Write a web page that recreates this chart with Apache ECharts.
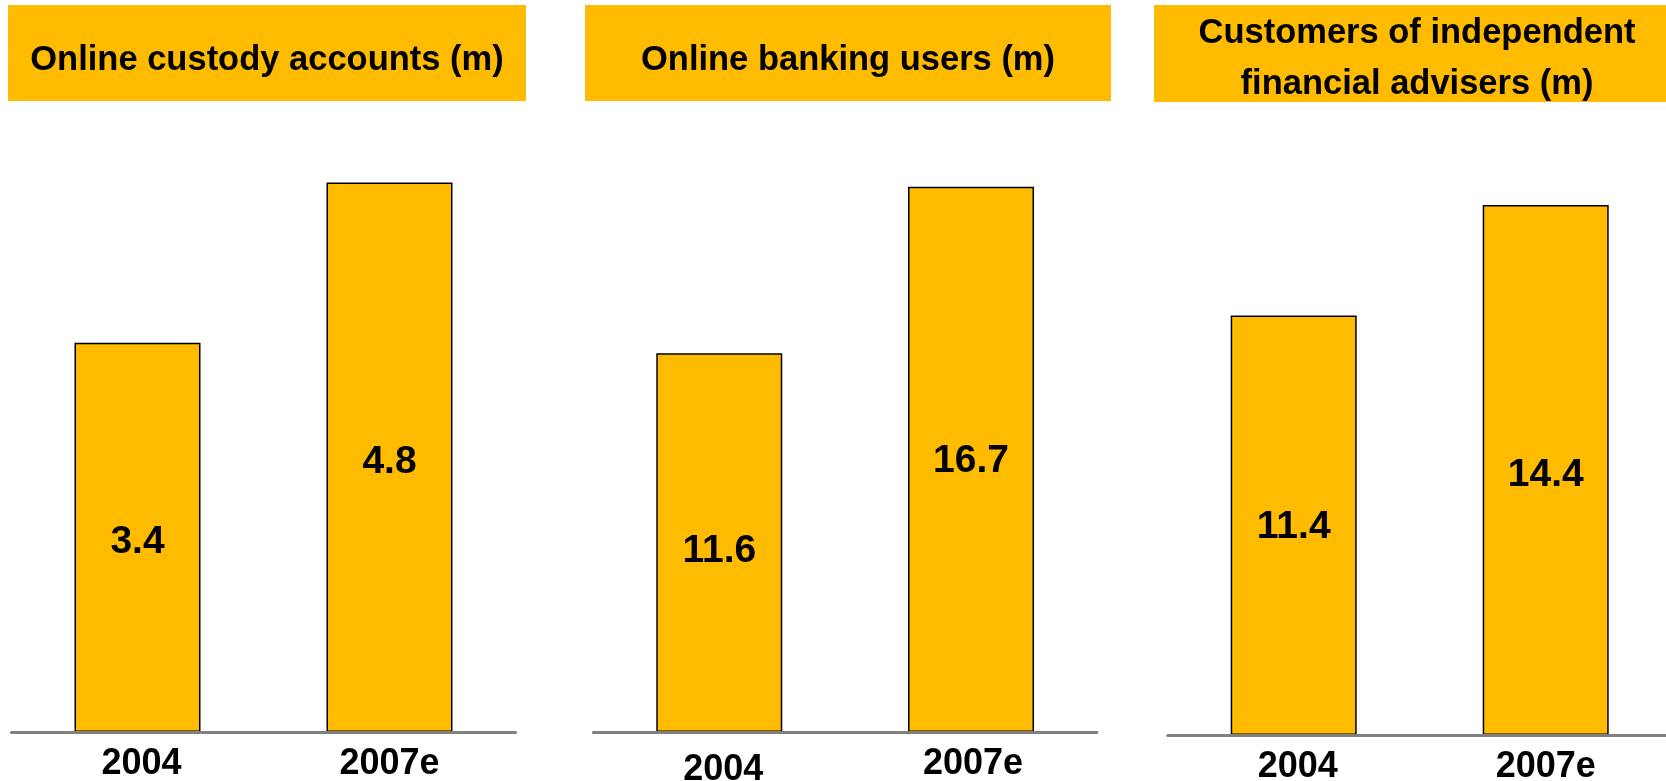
<!DOCTYPE html>
<html>
<head>
<meta charset="utf-8">
<script src="https://cdn.jsdelivr.net/npm/echarts@6/dist/echarts.min.js"></script>
<style>
  html, body { margin: 0; padding: 0; background: #fff; }
  #chart { width: 1666px; height: 781px; }
</style>
</head>
<body>
<div id="chart"></div>
<script>
// Categories shared by all three panels
const years = ['2004', '2007e'];

// Panel titles
const titles = [
  'Online custody accounts (m)',
  'Online banking users (m)',
  'Customers of independent\nfinancial advisers (m)'
];

// Values in millions
const custodyAccounts = [3.4, 4.8];
const bankingUsers = [11.6, 16.7];
const advisersCustomers = [11.4, 14.4];

const panelValues = [custodyAccounts, bankingUsers, advisersCustomers];

// Value-axis ceilings per panel
const axisMax = [5, 18, 15];

const FONT = "'Liberation Sans', Arial, sans-serif";
const GOLD = '#FFBB00';

// Layout of each panel: plotting grid, title box, title anchor,
// vertical nudge of the value labels and padding of the year labels
const panels = [
  { grid: { left: 11.5, width: 504, top: 159.5, height: 572.5 }, box: { x: 8, y: 5, w: 518, h: 96 }, tx: 267, ty: 60,
    labelNudge: [5, 5], yearPad: [[0, 0, 0, 8], [0, 0, 0, 0]] },
  { grid: { left: 593.4, width: 503.5, top: 144.3, height: 587.7 }, box: { x: 585, y: 5, w: 526, h: 96 }, tx: 848, ty: 60,
    labelNudge: [9, 2], yearPad: [[6, 0, 0, 8], [0, 0, 0, 4]] },
  { grid: { left: 1167.7, width: 504, top: 183, height: 552 }, box: { x: 1154, y: 5, w: 512, h: 97 }, tx: 1417, ty: 59,
    labelNudge: [2, 5], yearPad: [[0, 0, 0, 8], [0, 0, 0, 0]] }
];

const chart = echarts.init(document.getElementById('chart'), null, { renderer: 'canvas' });

const option = {
  backgroundColor: '#ffffff',
  animation: false,
  grid: panels.map(p => Object.assign({ containLabel: false, outerBoundsMode: 'none' }, p.grid)),
  xAxis: panels.map((p, i) => ({
    type: 'category',
    gridIndex: i,
    data: years.map((y, j) => ({ value: y, textStyle: { padding: p.yearPad[j] } })),
    z: 10,
    axisLine: { show: true, lineStyle: { color: '#808080', width: 3, cap: 'round' } },
    axisTick: { show: false },
    axisLabel: {
      margin: 14,
      color: '#000',
      fontFamily: FONT,
      fontWeight: 'bold',
      fontSize: 36
    },
    splitLine: { show: false }
  })),
  yAxis: panels.map((p, i) => ({
    type: 'value',
    gridIndex: i,
    min: 0,
    max: axisMax[i],
    show: false,
    splitLine: { show: false }
  })),
  series: panelValues.map((vals, i) => ({
    type: 'bar',
    xAxisIndex: i,
    yAxisIndex: i,
    data: vals.map((v, j) => ({ value: v, label: { offset: [0, panels[i].labelNudge[j]] } })),
    barWidth: 126,
    itemStyle: { color: GOLD, borderColor: '#000', borderWidth: 1.5 },
    label: {
      show: true,
      position: 'inside',
      color: '#000',
      fontFamily: FONT,
      fontWeight: 'bold',
      fontSize: 39
    }
  })),
  graphic: panels.map((p, i) => ({
    type: 'group',
    children: [
      {
        type: 'rect',
        shape: { x: p.box.x, y: p.box.y, width: p.box.w, height: p.box.h },
        style: { fill: GOLD }
      },
      {
        type: 'text',
        x: p.tx,
        y: p.ty,
        style: {
          text: titles[i],
          fill: '#000',
          font: 'bold 34.5px ' + FONT,
          align: 'center',
          verticalAlign: 'middle',
          lineHeight: 51
        }
      }
    ]
  }))
};

chart.setOption(option);
</script>
</body>
</html>
